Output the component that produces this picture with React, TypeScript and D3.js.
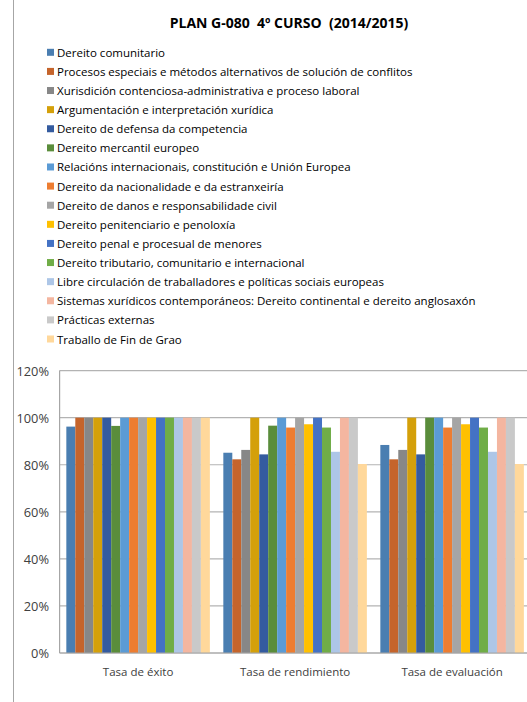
import React from 'react';
import * as d3 from 'd3';

const chartTitle = 'PLAN G-080  4º CURSO  (2014/2015)';

const categories = ['Tasa de éxito', 'Tasa de rendimiento', 'Tasa de evaluación'];

const subjects = [
	'Dereito comunitario',
	'Procesos especiais e métodos alternativos de solución de conflitos',
	'Xurisdición contenciosa-administrativa e proceso laboral',
	'Argumentación e interpretación xurídica',
	'Dereito de defensa da competencia',
	'Dereito mercantil europeo',
	'Relacións internacionais, constitución e Unión Europea',
	'Dereito da nacionalidade e da estranxeiría',
	'Dereito de danos e responsabilidade civil',
	'Dereito penitenciario e penoloxía',
	'Dereito penal e procesual de menores',
	'Dereito tributario, comunitario e internacional',
	'Libre circulación de traballadores e políticas sociais europeas',
	'Sistemas xurídicos contemporáneos: Dereito continental e dereito anglosaxón',
	'Prácticas externas',
	'Traballo de Fin de Grao',
];

const subjectColors = [
	'#4a7eb1', '#c5642b', '#878787', '#d4a00a', '#345b9f', '#5a8d3b',
	'#5b9bd5', '#ed7d31', '#a5a5a5', '#ffc000', '#4472c4', '#70ad47',
	'#adc6e7', '#f4b6a0', '#c9c9c9', '#ffd89b',
];

// valores en tanto por un, na orde das materias
const tasaExito = [0.962, 1, 1, 1, 1, 0.965, 1, 1, 1, 1, 1, 1, 1, 1, 1, 1];
const tasaRendimento = [0.851, 0.823, 0.863, 1, 0.844, 0.966, 1, 0.958, 1, 0.972, 1, 0.958, 0.855, 1, 1, 0.803];
const tasaEvaluacion = [0.884, 0.823, 0.863, 1, 0.844, 1, 1, 0.958, 1, 0.972, 1, 0.958, 0.855, 1, 1, 0.803];

const yTicks = [0, 0.2, 0.4, 0.6, 0.8, 1, 1.2];

const font = '"Open Sans", sans-serif';

export default function App() {
	const width = 527;
	const height = 702;
	const plot = { left: 59.6, right: 530.6, top: 370.6, bottom: 653 };

	const values = [tasaExito, tasaRendimento, tasaEvaluacion];

	const x0 = d3
		.scaleBand<string>()
		.domain(categories)
		.range([plot.left, plot.right])
		.paddingInner(0)
		.paddingOuter(0);

	// ocos de 150% como en Excel
	const barW = x0.bandwidth() / 17.5;
	const x1 = d3
		.scaleBand<string>()
		.domain(subjects)
		.range([barW * 0.75, x0.bandwidth() - barW * 0.75]);

	const y = d3.scaleLinear().domain([0, 1.2]).range([plot.bottom, plot.top]);

	const legendY = d3.scaleLinear().domain([0, 15]).range([52.3, 339]);

	return (
		<div style={{ position: 'absolute', left: 0, top: 0 }}>
			<svg width={width} height={height} style={{ display: 'block', background: '#fff' }}>
				<line x1={13.5} x2={13.5} y1={0} y2={702} stroke="#a6a6a6" strokeWidth={1} />

				<text
					x={289}
					y={22}
					textAnchor="middle"
					dominantBaseline="central"
					fontFamily={font}
					fontWeight="bold"
					fontSize={14}
					fill="#000"
					style={{ whiteSpace: 'pre' }}
				>
					{chartTitle}
				</text>

				<g className="legend">
					{subjects.map((s, i) => (
						<g key={s} transform={`translate(0,${legendY(i)})`}>
							<rect x={47} y={-3.5} width={7} height={7} fill={subjectColors[i]} />
							<text
								x={57}
								y={0}
								dominantBaseline="central"
								fontFamily={font}
								fontSize={11.5}
								fill="#000"
							>
								{s}
							</text>
						</g>
					))}
				</g>

				<g className="grid">
					{yTicks.map((t) => (
						<line
							key={t}
							x1={plot.left}
							x2={plot.right}
							y1={y(t)}
							y2={y(t)}
							stroke="#b3b3b3"
							strokeWidth={1.2}
						/>
					))}
				</g>

				<g className="bars">
					{categories.map((c, ci) => (
						<g key={c} transform={`translate(${x0(c)},0)`}>
							{subjects.map((s, si) => (
								<rect
									key={s}
									x={x1(s)}
									y={y(values[ci][si])}
									width={x1.bandwidth()}
									height={plot.bottom - y(values[ci][si])}
									fill={subjectColors[si]}
								/>
							))}
						</g>
					))}
				</g>

				<line x1={plot.left} x2={plot.left} y1={plot.top} y2={plot.bottom} stroke="#a6a6a6" strokeWidth={1.2} />
				<line x1={plot.left} x2={plot.right} y1={plot.bottom} y2={plot.bottom} stroke="#a6a6a6" strokeWidth={1.2} />

				<g className="y-axis">
					{yTicks.map((t) => (
						<text
							key={t}
							x={49}
							y={y(t)}
							textAnchor="end"
							dominantBaseline="central"
							fontFamily={font}
							fontSize={12.8}
							fill="#404040"
						>
							{d3.format('.0%')(t)}
						</text>
					))}
				</g>

				<g className="x-axis">
					{categories.map((c) => (
						<text
							key={c}
							x={(x0(c) ?? 0) + x0.bandwidth() / 2}
							y={671.5}
							textAnchor="middle"
							dominantBaseline="central"
							fontFamily={font}
							fontSize={11.5}
							fill="#404040"
						>
							{c}
						</text>
					))}
				</g>
			</svg>
		</div>
	);
}
